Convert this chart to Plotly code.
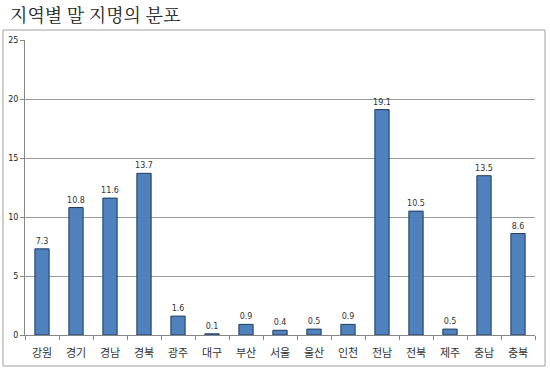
import plotly.graph_objects as go

regions = ["강원", "경기", "경남", "경북", "광주", "대구", "부산", "서울", "울산", "인천",
           "전남", "전북", "제주", "충남", "충북"]
values = [7.3, 10.8, 11.6, 13.7, 1.6, 0.1, 0.9, 0.4, 0.5, 0.9, 19.1, 10.5, 0.5, 13.5, 8.6]
y_ticks = [0, 5, 10, 15, 20, 25]
title_text = "지역별 말 지명의 분포"

fig = go.Figure()
fig.add_trace(go.Bar(
    x=regions, y=values,
    marker=dict(color="#4F81BD", line=dict(color="#1F3A5F", width=1)),
    text=[f"{v}" for v in values], textposition="outside",
    constraintext="none",
    textfont=dict(family="DejaVu Sans", size=8, color="#333333"),
    cliponaxis=False,
))

L, R, T, B = 25, 15, 40, 34
W, H = 550, 369
pw, ph = W - L - R, H - T - B

def px_x(px):
    return (px - L) / pw

def px_y(py):
    return (H - B - py) / ph

fig.update_layout(
    width=W, height=H,
    margin=dict(l=L, r=R, t=T, b=B, autoexpand=False),
    paper_bgcolor="white", plot_bgcolor="white",
    bargap=0.58, showlegend=False,
    font=dict(family="Noto Sans CJK KR", color="#333333"),
    xaxis=dict(showline=True, linecolor="#868686", linewidth=1,
               ticks="outside", tickson="boundaries", ticklen=4, tickcolor="#868686",
               ticklabelstandoff=8,
               tickfont=dict(family="Noto Sans CJK KR", size=11, color="#333333"),
               showgrid=False),
    yaxis=dict(range=[0, 25], tickvals=y_ticks, showline=True, linecolor="#868686",
               ticks="outside", ticklen=4, tickcolor="#868686",
               gridcolor="#9a9a9a", gridwidth=1,
               tickfont=dict(family="DejaVu Sans", size=8, color="#222222"),
               zeroline=False),
    shapes=[dict(type="rect", xref="paper", yref="paper",
                 x0=px_x(3), x1=px_x(545), y0=px_y(366), y1=px_y(30),
                 line=dict(color="#A0A0A0", width=1), fillcolor="rgba(0,0,0,0)",
                 layer="below")],
    annotations=[dict(text=title_text, xref="paper", yref="paper",
                      x=px_x(8), y=px_y(14), xanchor="left", yanchor="middle",
                      showarrow=False,
                      font=dict(family="Noto Serif CJK KR, Noto Sans CJK KR", size=18, color="#222222"))],
)

fig.write_html("out.html")
